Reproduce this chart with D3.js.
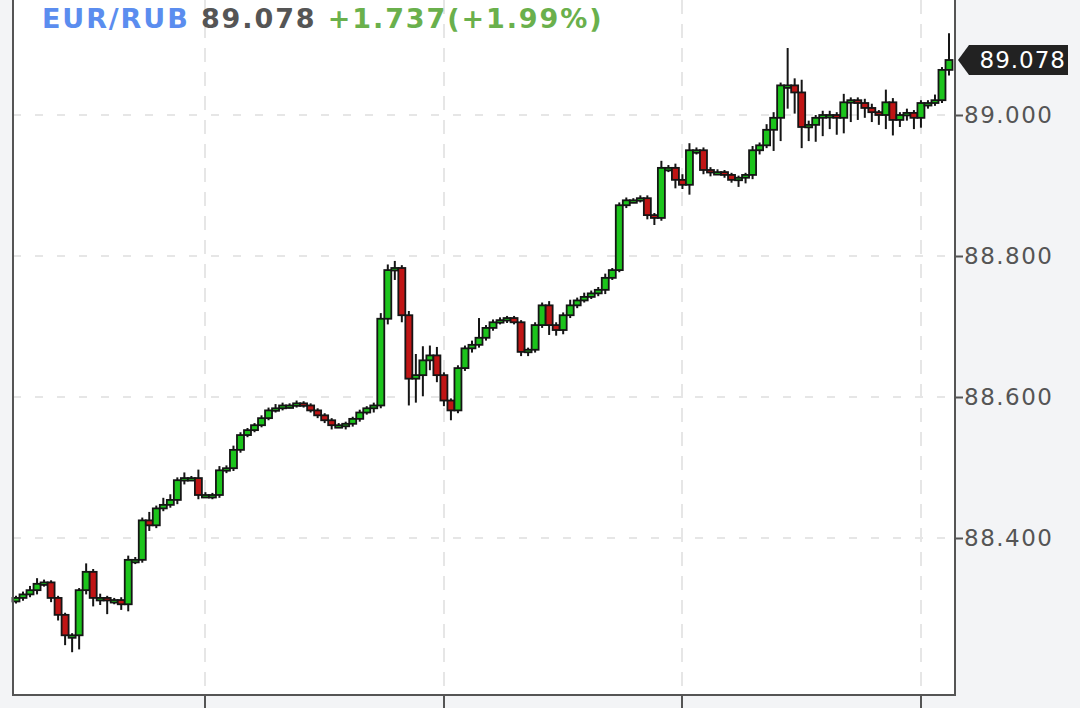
<!DOCTYPE html>
<html><head><meta charset="utf-8">
<script src="https://cdn.jsdelivr.net/npm/d3@7"></script>
<style>body{margin:0;background:#f3f4f6;}svg{display:block;}</style>
</head><body><svg id="c" width="1080" height="708"></svg>
<script>
const firstOpen = 88.310;
const closes = [88.315,88.320,88.326,88.335,88.337,88.315,88.291,88.262,88.262,88.326,
88.352,88.315,88.315,88.312,88.312,88.306,88.369,88.369,88.425,88.418,
88.442,88.447,88.454,88.482,88.485,88.485,88.461,88.461,88.461,88.496,
88.499,88.525,88.546,88.553,88.560,88.570,88.581,88.584,88.588,88.588,
88.591,88.588,88.581,88.574,88.567,88.560,88.560,88.562,88.569,88.578,
88.584,88.588,88.711,88.780,88.783,88.716,88.626,88.631,88.652,88.659,
88.631,88.595,88.581,88.641,88.669,88.674,88.684,88.698,88.706,88.709,
88.712,88.706,88.664,88.667,88.702,88.730,88.702,88.695,88.716,88.730,
88.737,88.742,88.747,88.752,88.769,88.780,88.872,88.879,88.879,88.882,
88.858,88.854,88.925,88.925,88.908,88.901,88.950,88.950,88.922,88.919,
88.919,88.915,88.908,88.911,88.915,88.950,88.957,88.979,88.996,89.042,
89.042,89.032,88.983,88.986,88.996,89.000,89.000,88.996,89.018,89.021,
89.017,89.010,89.004,89.000,89.018,88.993,89.000,89.003,88.996,89.017,
89.017,89.021,89.064,89.078];
// wick extensions above/below body, in thousandths
const wickUp = [3,4,6,8,4,3,3,3,3,3, 12,4,6,3,3,4,6,4,4,12,
4,10,8,4,8,3,12,4,3,6, 4,6,4,3,3,4,4,6,4,3,
4,3,3,3,3,3,3,3,3,4, 3,4,8,8,10,4,6,30,20,14,
12,4,3,4,4,6,28,4,4,4, 3,3,3,3,4,4,6,4,4,8,
4,6,4,4,6,3,4,4,3,4, 4,3,10,4,6,8,10,4,4,4,
4,3,3,3,3,6,4,8,8,4, 53,10,18,6,4,6,6,4,12,4,
4,6,6,3,18,6,4,6,4,4, 4,8,4,38];
const wickDn = [3,4,4,6,4,6,8,14,24,20, 6,12,10,20,6,8,10,6,4,8,
4,4,4,6,6,4,6,4,6,4, 4,4,4,3,3,3,3,3,3,4,
3,3,3,4,4,6,4,6,4,4, 3,6,4,8,14,10,38,34,30,14,
10,8,14,4,4,6,4,4,4,3, 4,3,6,6,4,4,14,8,6,4,
4,3,3,4,6,3,3,4,4,3, 6,10,4,6,12,6,14,6,6,6,
4,4,4,10,8,6,6,4,30,33, 33,30,30,20,24,26,20,24,22,28,
24,14,14,14,20,22,10,8,16,14, 8,4,4,8];
const yTicks = [88.4, 88.6, 88.8, 89.0];
const xTickIdx = [27, 61, 95, 129];

const svg = d3.select("#c");
const L = 13, R = 955, T = 0, B = 695;
const x = d3.scaleLinear().domain([0, closes.length - 1]).range([16, 949]);
const y = d3.scaleLinear().domain([88.4, 89.0]).range([538, 115]);

svg.append("rect").attr("x", L).attr("y", T).attr("width", R - L).attr("height", B - T).attr("fill", "#fff");

// grid
svg.append("g").selectAll("line").data(yTicks).join("line")
  .attr("x1", L).attr("x2", R).attr("y1", d => y(d)).attr("y2", d => y(d))
  .attr("stroke", "#e6e6e6").attr("stroke-width", 2).attr("stroke-dasharray", "8,14");
svg.append("g").selectAll("line").data(xTickIdx).join("line")
  .attr("x1", d => Math.round(x(d))).attr("x2", d => Math.round(x(d))).attr("y1", T).attr("y2", B)
  .attr("stroke", "#e6e6e6").attr("stroke-width", 2).attr("stroke-dasharray", "14,10");

// candles
const data = closes.map((c, i) => {
  const o = i === 0 ? firstOpen : closes[i - 1];
  return {i, o, c, h: Math.max(o, c) + wickUp[i] / 1000, l: Math.min(o, c) - wickDn[i] / 1000};
});
const g = svg.append("g");
g.selectAll("line").data(data).join("line")
  .attr("x1", d => x(d.i)).attr("x2", d => x(d.i))
  .attr("y1", d => y(d.h)).attr("y2", d => y(d.l))
  .attr("stroke", "#151515").attr("stroke-width", 2);
g.selectAll("rect").data(data).join("rect")
  .attr("x", d => x(d.i) - 3.5).attr("width", 7)
  .attr("y", d => y(Math.max(d.o, d.c)))
  .attr("height", d => Math.max(2.5, Math.abs(y(d.o) - y(d.c))))
  .attr("fill", d => d.c >= d.o ? "#1cc41c" : "#c01515")
  .attr("stroke", "#151515").attr("stroke-width", 1.8);

// axes lines
svg.append("line").attr("x1", L).attr("x2", L).attr("y1", 0).attr("y2", B + 1).attr("stroke", "#555").attr("stroke-width", 2);
svg.append("line").attr("x1", R).attr("x2", R).attr("y1", 0).attr("y2", B + 1).attr("stroke", "#555").attr("stroke-width", 2);
svg.append("line").attr("x1", L).attr("x2", R).attr("y1", B).attr("y2", B).attr("stroke", "#555").attr("stroke-width", 2);

const ya = svg.append("g").attr("transform", `translate(${R},0)`)
  .call(d3.axisRight(y).tickValues(yTicks).tickFormat(d3.format(".3f")).tickSize(8).tickPadding(1));
ya.select(".domain").remove();
ya.selectAll("line").attr("stroke", "#555").attr("stroke-width", 2);
ya.selectAll("text").attr("fill", "#555").attr("font-family", "DejaVu Sans").attr("font-size", 23).attr("letter-spacing", 1.5);

svg.append("g").selectAll("line").data(xTickIdx).join("line")
  .attr("x1", d => Math.round(x(d))).attr("x2", d => Math.round(x(d))).attr("y1", B).attr("y2", 708)
  .attr("stroke", "#555").attr("stroke-width", 2);

// last price tag
const lp = closes[closes.length - 1], ly = y(lp);
svg.append("path").attr("d", `M${R + 3},${ly} L${R + 14},${ly - 15} H1068 V${ly + 15} H${R + 14} Z`).attr("fill", "#222");
svg.append("text").attr("x", 1066).attr("y", ly + 8).attr("text-anchor", "end")
  .attr("fill", "#fff").attr("font-family", "DejaVu Sans").attr("font-size", 23).attr("letter-spacing", 1).text(lp.toFixed(3));

// title
const t = svg.append("text").attr("x", 42).attr("y", 28).attr("font-family", "DejaVu Sans").attr("font-weight", "bold").attr("font-size", 27).attr("letter-spacing", 1.9);
t.append("tspan").attr("fill", "#5b8def").text("EUR/RUB ");
t.append("tspan").attr("fill", "#555").text(lp.toFixed(3) + " ");
t.append("tspan").attr("fill", "#6ab04c").text("+1.737(+1.99%)");
</script></body></html>
